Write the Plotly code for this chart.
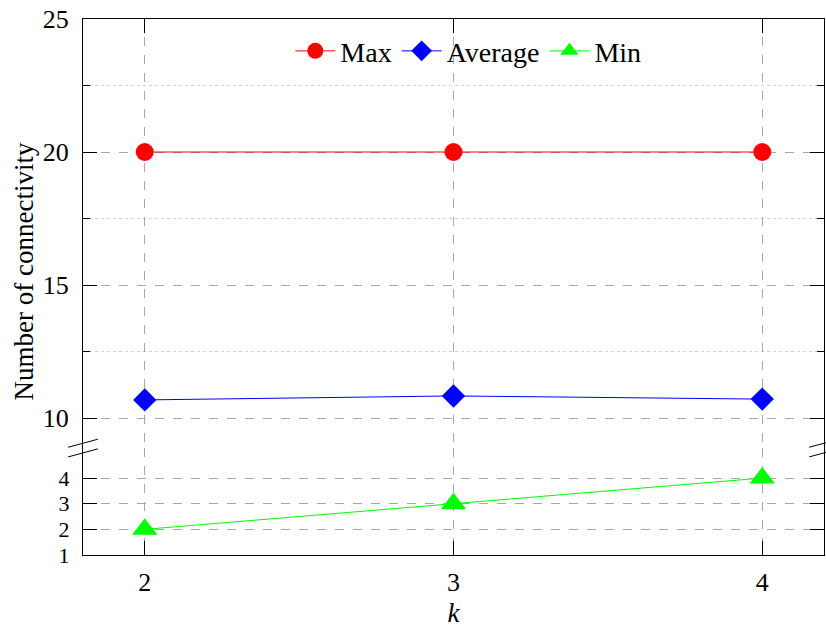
import plotly.graph_objects as go

k_values = [2, 3, 4]
max_conn = [20, 20, 20]
avg_conn = [10.68, 10.83, 10.71]
min_conn = [2, 3, 4]

upper_ticks = [10, 15, 20, 25]
lower_ticks = [1, 2, 3, 4]

FONT = "Liberation Serif"
GRID = "#a8a8a8"
TICK_SIZE = 26

fig = go.Figure()
fig.add_trace(go.Scatter(x=k_values, y=max_conn, name="Max", mode="lines+markers",
                         line=dict(color="#ff0000", width=1),
                         marker=dict(symbol="circle", size=18, color="#ff0000"),
                         xaxis="x2", yaxis="y2"))
fig.add_trace(go.Scatter(x=k_values, y=avg_conn, name="Average", mode="lines+markers",
                         line=dict(color="#0000ff", width=1),
                         marker=dict(symbol="diamond", size=18, color="#0000ff"),
                         xaxis="x2", yaxis="y2"))
fig.add_trace(go.Scatter(x=k_values, y=min_conn, name="Min", mode="lines+markers",
                         line=dict(color="#00ff00", width=1),
                         marker=dict(symbol="triangle-up", size=22, color="#00ff00"),
                         xaxis="x", yaxis="y"))

common_x = dict(range=[1.8, 4.2], tickvals=k_values, showgrid=True, gridcolor=GRID,
                griddash="dash", gridwidth=1, ticks="inside", ticklen=14,
                tickcolor="black", showline=True, linecolor="black", linewidth=1,
                zeroline=False, automargin=False)

common_y = dict(showgrid=True, gridcolor=GRID, griddash="dash",
                ticks="inside", ticklen=14, tickcolor="black",
                showline=True, linecolor="black", mirror="ticks",
                zeroline=False, automargin=False, ticklabelstandoff=8)

fig.update_layout(
    width=826, height=630,
    margin=dict(l=83, r=2, t=19, b=75),
    paper_bgcolor="white", plot_bgcolor="white",
    font=dict(family=FONT, size=TICK_SIZE, color="black"),
    xaxis=dict(**common_x, anchor="y", tickfont=dict(size=TICK_SIZE), ticklabelstandoff=4,
               title=dict(text="<i>k</i>", font=dict(size=27), standoff=6)),
    xaxis2=dict(**common_x, anchor="y2", matches="x", side="top", showticklabels=False),
    yaxis=dict(**common_y, domain=[0, 0.2], range=[1, 5.18], tickvals=lower_ticks,
               tickfont=dict(size=22)),
    yaxis2=dict(**common_y, domain=[0.2, 1], range=[8.88, 25], tickvals=upper_ticks,
                tickfont=dict(size=TICK_SIZE),
                minor=dict(tickvals=[12.5, 17.5, 22.5], showgrid=True, gridcolor="#d0d0d0",
                           griddash="dot", ticks="inside", ticklen=7, tickcolor="black")),
    legend=dict(orientation="h", x=0.52, xanchor="center", y=0.94, yanchor="middle",
                bgcolor="rgba(0,0,0,0)", font=dict(size=28), itemwidth=40),
    showlegend=True,
)

fig.add_annotation(text="Number of connectivity", textangle=-90, xref="paper", yref="paper",
                   x=-0.0796, y=0.529, xanchor="center", yanchor="middle", showarrow=False,
                   font=dict(size=27))

# axis break marks
for xc in (0.0, 1.0):
    for dy in (-0.009, 0.009):
        fig.add_shape(type="line", xref="paper", yref="paper",
                      x0=xc - 0.02, x1=xc + 0.02, y0=0.192 + dy, y1=0.207 + dy,
                      line=dict(color="black", width=1))

fig.write_html("out.html", post_script="document.body.style.margin='0';",
               config={"displayModeBar": False})
